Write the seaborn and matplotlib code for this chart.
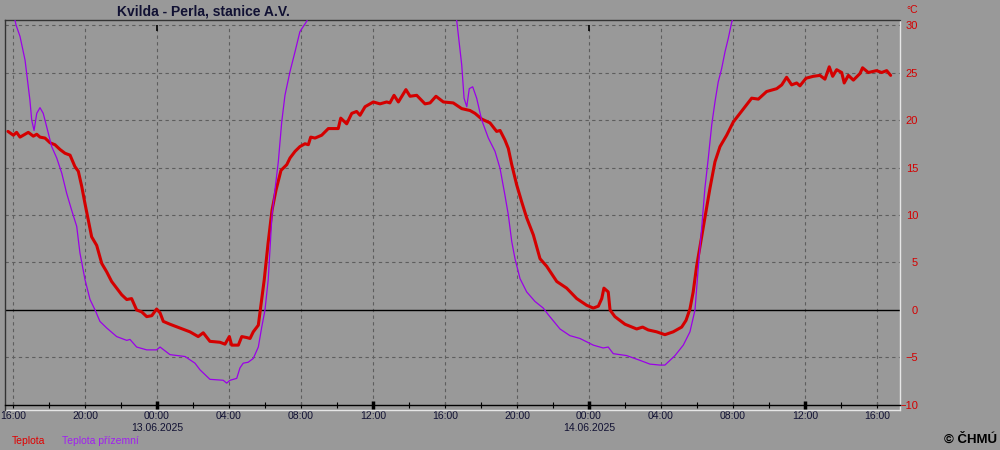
import matplotlib
matplotlib.use("Agg")
import matplotlib.pyplot as plt
import matplotlib.dates as mdates
import numpy as np
import pandas as pd
import seaborn as sns

# hours since 12.06.2025 16:00
START = pd.Timestamp("2025-06-12 16:00")

teplota_h = [
    -0.28, 0.02, 0.2, 0.39, 0.85, 1.13, 1.32, 1.5, 1.78, 2.06, 2.33, 2.61, 2.89,
    3.17, 3.44, 3.63, 3.82, 4.0, 4.18, 4.37, 4.65, 4.93, 5.21, 5.48, 5.76, 6.04,
    6.32, 6.59, 6.87, 7.15, 7.43, 7.71, 7.98, 8.17, 8.35, 8.72, 9.28, 9.83, 10.29,
    10.57, 10.94, 11.5, 11.78, 12.02, 12.15, 12.52, 12.71, 12.98, 13.17, 13.35,
    13.63, 13.72, 13.82, 13.91, 13.96, 14.17, 14.39, 14.61, 14.89, 15.21, 15.39,
    15.67, 15.94, 16.22, 16.41, 16.54, 16.78, 17.15, 17.52, 18.07, 18.21, 18.54,
    18.82, 19.09, 19.28, 19.56, 20.02, 20.39, 20.76, 20.94, 21.17, 21.41, 21.83,
    22.06, 22.43, 22.89, 23.17, 23.5, 23.91, 24.46, 24.93, 25.39, 25.67, 26.04,
    26.5, 26.87, 27.06, 27.33, 27.52, 27.71, 27.98, 28.26, 28.54, 28.91, 29.28,
    29.65, 30.21, 30.76, 31.32, 31.87, 32.24, 32.52, 32.71, 32.83, 33.07, 33.17,
    33.44, 34.0, 34.65, 34.98, 35.29, 35.76, 36.22, 36.68, 37.15, 37.39, 37.61,
    37.79, 37.98, 38.17, 38.44, 38.72, 39.0, 39.28, 39.65, 40.02, 40.39, 40.76,
    41.04, 41.41, 41.87, 42.43, 42.71, 42.98, 43.26, 43.54, 43.72, 44.06, 44.46,
    44.83, 45.11, 45.35, 45.54, 45.76, 46.04, 46.18, 46.41, 46.69, 47.06, 47.2,
    47.52, 47.98, 48.26, 48.54, 48.76,
]
teplota = [
    18.8, 18.4, 18.7, 18.2, 18.7, 18.3, 18.5, 18.2, 18.1, 17.6, 17.4, 16.9, 16.5,
    16.3, 15.1, 14.6, 13.0, 11.2, 9.5, 7.7, 6.8, 4.9, 4.0, 3.0, 2.3, 1.6,
    1.1, 1.2, 0.0, -0.2, -0.7, -0.6, 0.1, -0.3, -1.2, -1.5, -1.9, -2.3, -2.8,
    -2.4, -3.3, -3.4, -3.6, -2.8, -3.7, -3.7, -2.8, -2.9, -3.0, -2.3,
    -1.6, -0.3, 1.1, 2.5, 3.2, 7.0, 10.5, 12.6, 14.7, 15.3, 16.0,
    16.7, 17.2, 17.5, 17.4, 18.2, 18.1, 18.4, 19.1, 19.1, 20.2, 19.6,
    20.7, 20.9, 20.5, 21.4, 21.9, 21.7, 21.9, 21.8, 22.6, 21.9, 23.2,
    22.5, 22.6, 21.7, 21.8, 22.5, 21.9, 21.8, 21.2, 21.0, 20.7, 20.1,
    19.7, 18.8, 18.9, 17.9, 17.0, 15.3, 13.2, 11.4, 9.7, 7.9, 5.4,
    4.6, 3.0, 2.3, 1.2, 0.5, 0.2, 0.4, 1.2, 2.3, 1.9, 0.0,
    -0.7, -1.5, -2.0, -1.8, -2.1, -2.3, -2.6, -2.3, -1.8, -1.1, 0.1,
    1.9, 4.6, 6.7, 9.7, 12.8, 15.6, 17.2, 18.4, 19.8, 20.7, 21.6,
    22.3, 22.2, 23.0, 23.3, 23.7, 24.5, 23.7, 23.9, 23.6, 24.4, 24.6,
    24.7, 24.3, 25.6, 24.6, 25.3, 25.0, 23.9, 24.7, 24.2, 24.9, 25.5,
    25.0, 25.2, 25.0, 25.2, 24.7,
]

prizemni_h = [
    -0.28, 0.0, 0.17, 0.39, 0.67, 0.94, 1.04, 1.17, 1.32, 1.5, 1.68, 1.87, 2.15,
    2.43, 2.71, 2.98, 3.26, 3.54, 3.72, 4.0, 4.28, 4.56, 4.83, 5.21, 5.76, 6.32,
    6.5, 6.87, 7.43, 7.98, 8.17, 8.72, 9.56, 10.11, 10.39, 10.94, 11.68, 11.87,
    12.06, 12.43, 12.61, 12.79, 13.07, 13.35, 13.63, 13.82, 14.0, 14.18, 14.39,
    14.74, 14.93, 15.11, 15.39, 15.67, 15.94, 16.32, 16.78, 18.0, 20.0, 22.0,
    24.0, 24.5, 24.65, 24.93, 25.06, 25.21, 25.35, 25.54, 25.76, 26.04, 26.41,
    26.78, 27.06, 27.33, 27.52, 27.71, 27.89, 28.17, 28.54, 29.0, 29.46, 29.74,
    30.39, 30.94, 31.5, 32.24, 32.79, 33.07, 33.35, 34.09, 34.83, 35.39, 35.94,
    36.22, 36.78, 37.24, 37.61, 37.89, 38.07, 38.26, 38.44, 38.63, 38.82, 39.0,
    39.18, 39.37, 39.56, 39.74, 39.93, 40.39, 42.0, 44.0, 46.0, 48.76,
]
teplota_prizemni = [
    34.0, 31.5, 30.0, 28.8, 26.3, 22.1, 20.0, 18.9, 20.7, 21.3, 20.7, 19.3, 17.2,
    16.0, 14.4, 12.3, 10.5, 8.8, 6.0, 3.2, 1.1, 0.0, -1.2, -1.9, -2.8, -3.2,
    -3.1, -3.9, -4.2, -4.2, -3.9, -4.7, -4.9, -5.6, -6.3, -7.3, -7.4, -7.7,
    -7.4, -7.2, -6.1, -5.6, -5.5, -5.1, -3.9, -1.8, 0.0, 3.2, 10.0,
    15.6, 19.8, 22.6, 25.1, 27.2, 29.3, 30.4, 33.0, 37.0, 40.0, 41.0,
    36.0, 31.5, 30.5, 25.8, 22.3, 21.4, 23.3, 23.5, 22.3, 20.0, 18.1,
    16.7, 14.9, 12.1, 10.0, 7.2, 5.4, 3.3, 1.9, 0.9, 0.2, -0.5,
    -2.0, -2.7, -3.0, -3.7, -4.0, -3.9, -4.6, -4.8, -5.3, -5.7, -5.8,
    -5.8, -4.8, -3.7, -2.3, 0.0, 4.4, 8.6, 12.8, 16.0, 19.5, 21.9,
    24.0, 25.4, 27.2, 28.6, 30.3, 33.0, 38.0, 41.0, 40.0, 36.0,
]

y_ticks = [-10, -5, 0, 5, 10, 15, 20, 25, 30]

BG = "#999999"
GRID = "#5e5e5e"
RED = "#d40000"
PURPLE = "#9b00e8"
TXT = "#111133"

df_t = pd.DataFrame({"cas": START + pd.to_timedelta(teplota_h, unit="h"),
                     "teplota": teplota})
df_p = pd.DataFrame({"cas": START + pd.to_timedelta(prizemni_h, unit="h"),
                     "teplota": teplota_prizemni})

sns.set_theme(style="white")
plt.rcParams["font.family"] = ["Liberation Sans", "DejaVu Sans"]

fig = plt.figure(figsize=(10, 4.5), dpi=100, facecolor=BG)
ax = fig.add_axes([0.005, 1 - 410 / 450, 0.895, 390 / 450])
ax.set_facecolor(BG)

x0 = START - pd.Timedelta(hours=0.444)
x1 = START + pd.Timedelta(hours=49.28)
ax.set_xlim(x0, x1)
ax.set_ylim(-10.53, 30.53)

# grid
for v in y_ticks[1:]:
    if v != 0:
        ax.axhline(v, color=GRID, ls=(0, (3, 3)), lw=0.8, zorder=1)
grid_times = pd.date_range(START, periods=13, freq="4h")
ax.vlines(grid_times, -10, 30, color=GRID, ls=(0, (3, 3)), lw=0.8, zorder=1)
ax.axhline(0, color="black", lw=1, zorder=2)

sns.lineplot(data=df_t, x="cas", y="teplota", color=RED, lw=2.2, ax=ax, zorder=3)
sns.lineplot(data=df_p, x="cas", y="teplota", color=PURPLE, lw=0.9, ax=ax, zorder=4)
ax.set_xlabel("")
ax.set_ylabel("")

# frame
ax.spines["top"].set_color("#333333")
ax.spines["left"].set_color("#333333")
ax.spines["right"].set_color("#e6e6e6")
ax.spines["bottom"].set_position(("data", -10))
ax.spines["bottom"].set_color("black")
for s in ax.spines.values():
    s.set_linewidth(1)
ax.plot([0, 1], [0, 0], transform=ax.transAxes, color="#e6e6e6", lw=1, clip_on=False)

# x axis
def fmt_time(x, pos):
    d = mdates.num2date(x)
    s = d.strftime("%H:%M")
    if d.hour == 0:
        s += "\n" + d.strftime("%d.%m.%Y")
    return s

ax.xaxis.set_major_locator(mdates.HourLocator(byhour=[0, 4, 8, 12, 16, 20]))
ax.xaxis.set_minor_locator(mdates.HourLocator(byhour=range(0, 24, 2)))
ax.xaxis.set_major_formatter(plt.FuncFormatter(fmt_time))
ax.tick_params(axis="x", which="both", direction="inout", length=5, width=0.8,
               color="black", labelcolor=TXT, labelsize=7.5, pad=2, bottom=True)
thick = pd.date_range("2025-06-13 00:00", periods=4, freq="12h")
ax.vlines(thick, -10.4, -9.6, color="black", lw=2.5, zorder=5, clip_on=False)
midnights = pd.date_range("2025-06-13 00:00", periods=2, freq="24h")
ax.vlines(midnights, 29.4, 30, color="black", lw=1.2, zorder=5)

# y axis on the right
ax.yaxis.tick_right()
ax.set_yticks(y_ticks)
ax.tick_params(axis="y", length=0, pad=13, labelcolor=RED, labelsize=8)
for lbl in ax.get_yticklabels():
    lbl.set_horizontalalignment("right")

fig.text(0.918, 1 - 10 / 450, "°C", ha="right", va="center", color=RED, fontsize=7.5)
fig.text(0.203, 1 - 11 / 450, "Kvilda - Perla, stanice A.V.", ha="center", va="center",
         fontsize=10, fontweight="bold", color=TXT)
fig.text(0.012, 1 - 441 / 450, "Teplota", ha="left", va="center", color="#e00000", fontsize=7.5)
fig.text(0.062, 1 - 441 / 450, "Teplota přízemní", ha="left", va="center", color="#a020f0", fontsize=7.5)
fig.text(0.997, 1 - 440 / 450, "© ČHMÚ", ha="right", va="center", fontsize=9.5,
         fontweight="bold", color="black")

fig.savefig("out.png", dpi=100, facecolor=BG)
